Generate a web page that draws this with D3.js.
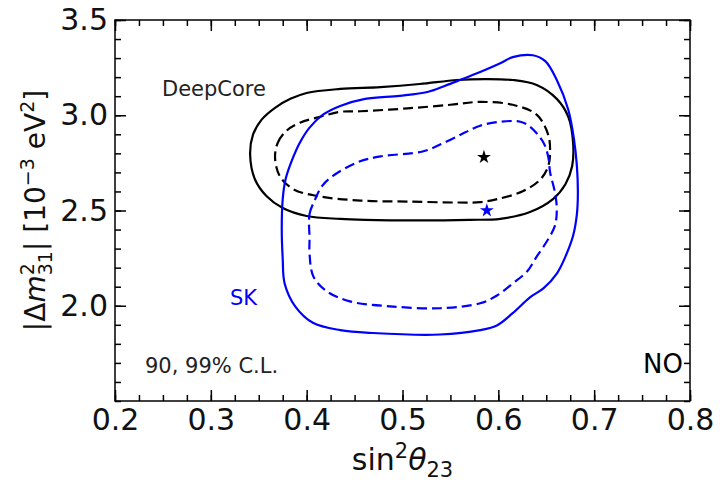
<!DOCTYPE html>
<html>
<head>
<meta charset="utf-8">
<script src="https://cdn.jsdelivr.net/npm/d3@7"></script>
<style>
  body { margin: 0; background: #fff; }
  svg { font-family: "DejaVu Sans", sans-serif; }
</style>
</head>
<body>
<svg id="chart" width="720" height="485"></svg>
<script>
// contour points: [sin^2 theta23, |dm^2_31| (1e-3 eV^2)]
const deepCore99 = [
  [0.341, 2.794], [0.344, 2.898], [0.353, 2.977], [0.367, 3.039], [0.383, 3.086],
  [0.400, 3.117], [0.435, 3.138], [0.477, 3.148], [0.518, 3.164], [0.557, 3.185],
  [0.586, 3.190], [0.615, 3.185], [0.640, 3.159], [0.661, 3.086], [0.673, 2.992],
  [0.678, 2.857], [0.677, 2.732], [0.670, 2.638], [0.657, 2.560], [0.633, 2.492],
  [0.602, 2.456], [0.570, 2.451], [0.518, 2.448], [0.461, 2.451], [0.435, 2.456],
  [0.400, 2.471], [0.375, 2.513], [0.358, 2.576], [0.346, 2.664]
]
const deepCore90 = [
  [0.367, 2.779], [0.370, 2.857], [0.379, 2.919], [0.393, 2.961], [0.414, 2.992],
  [0.435, 3.018], [0.456, 3.021], [0.505, 3.036], [0.550, 3.055], [0.581, 3.070],
  [0.615, 3.055], [0.640, 3.003], [0.652, 2.898], [0.654, 2.810], [0.652, 2.732],
  [0.644, 2.664], [0.626, 2.602], [0.599, 2.560], [0.581, 2.544], [0.557, 2.542],
  [0.505, 2.547], [0.456, 2.552], [0.411, 2.576], [0.386, 2.612], [0.372, 2.680]
]
const sk99 = [
  [0.374, 2.404], [0.375, 2.560], [0.378, 2.664], [0.385, 2.768], [0.393, 2.857],
  [0.403, 2.935], [0.417, 3.003], [0.435, 3.049], [0.461, 3.086], [0.497, 3.102],
  [0.526, 3.122], [0.544, 3.154], [0.560, 3.185], [0.581, 3.227], [0.602, 3.273],
  [0.615, 3.305], [0.636, 3.315], [0.649, 3.284], [0.661, 3.185], [0.673, 3.029],
  [0.679, 2.872], [0.682, 2.732], [0.683, 2.596], [0.682, 2.482], [0.678, 2.367],
  [0.670, 2.258], [0.661, 2.169], [0.647, 2.091], [0.633, 2.044], [0.615, 1.961],
  [0.599, 1.898], [0.581, 1.872], [0.539, 1.849], [0.469, 1.857], [0.435, 1.872],
  [0.407, 1.909], [0.388, 1.997], [0.377, 2.117], [0.375, 2.247]
]
const sk90 = [
  [0.403, 2.352], [0.403, 2.482], [0.409, 2.560], [0.416, 2.628], [0.427, 2.680],
  [0.453, 2.753], [0.477, 2.784], [0.521, 2.810], [0.546, 2.862], [0.565, 2.909],
  [0.581, 2.945], [0.602, 2.966], [0.623, 2.966], [0.633, 2.940], [0.647, 2.857],
  [0.652, 2.784], [0.654, 2.701], [0.659, 2.596], [0.661, 2.508], [0.659, 2.419],
  [0.651, 2.341], [0.640, 2.258], [0.630, 2.180], [0.615, 2.117], [0.599, 2.055],
  [0.581, 2.013], [0.539, 1.987], [0.487, 1.997], [0.445, 2.023], [0.421, 2.076],
  [0.407, 2.154], [0.403, 2.273]
]
const bestFitDeepCore = [0.585, 2.78]
const bestFitSK = [0.588, 2.50]

const xTicks = [0.2, 0.3, 0.4, 0.5, 0.6, 0.7, 0.8]
const yTicks = [2.0, 2.5, 3.0, 3.5]

const margin = {top: 20, right: 30, bottom: 84, left: 115}
const width = 720 - margin.left - margin.right
const height = 485 - margin.top - margin.bottom

const svg = d3.select("#chart")
const g = svg.append("g")
             .attr("transform", `translate(${margin.left},${margin.top})`)

const x = d3.scaleLinear().domain([0.2, 0.8]).range([0, width])
const y = d3.scaleLinear().domain([1.5, 3.5]).range([height, 0])

const xMinor = d3.range(0.2, 0.8001, 0.025)
const yMinor = d3.range(1.5, 3.5001, 0.1)
const fmt = d3.format(".1f")

// minor ticks on all four sides, pointing inwards
g.append("g").attr("transform", `translate(0,${height})`)
 .call(d3.axisBottom(x).tickValues(xMinor).tickSize(-6).tickSizeOuter(0).tickFormat(""))
g.append("g")
 .call(d3.axisTop(x).tickValues(xMinor).tickSize(-6).tickSizeOuter(0).tickFormat(""))
g.append("g")
 .call(d3.axisLeft(y).tickValues(yMinor).tickSize(-6).tickSizeOuter(0).tickFormat(""))
g.append("g").attr("transform", `translate(${width},0)`)
 .call(d3.axisRight(y).tickValues(yMinor).tickSize(-6).tickSizeOuter(0).tickFormat(""))

// major ticks
g.append("g").attr("class", "labelled").attr("transform", `translate(0,${height})`)
 .call(d3.axisBottom(x).tickValues(xTicks).tickSize(-11).tickSizeOuter(0).tickPadding(8).tickFormat(fmt))
g.append("g")
 .call(d3.axisTop(x).tickValues(xTicks).tickSize(-11).tickSizeOuter(0).tickFormat(""))
g.append("g").attr("class", "labelled")
 .call(d3.axisLeft(y).tickValues(yTicks).tickSize(-11).tickSizeOuter(0).tickPadding(7).tickFormat(fmt))
g.append("g").attr("transform", `translate(${width},0)`)
 .call(d3.axisRight(y).tickValues(yTicks).tickSize(-11).tickSizeOuter(0).tickFormat(""))

g.selectAll(".domain").remove()
g.selectAll(".tick line").attr("stroke", "#000").attr("stroke-width", 1.5)
g.selectAll(".labelled text")
 .attr("font-size", 30)
 .attr("font-family", "DejaVu Sans, sans-serif")
 .attr("fill", "#111")

g.append("rect")
 .attr("width", width)
 .attr("height", height)
 .attr("fill", "none")
 .attr("stroke", "#000")
 .attr("stroke-width", 1.5)

// contours
const line = d3.line()
               .x(d => x(d[0]))
               .y(d => y(d[1]))
               .curve(d3.curveCatmullRomClosed.alpha(0.5))

const contours = [
  {pts: deepCore99, color: "#000", dash: null},
  {pts: deepCore90, color: "#000", dash: "10,5"},
  {pts: sk99, color: "#0000ff", dash: null},
  {pts: sk90, color: "#0000ff", dash: "10,5"}
]

g.selectAll(".contour")
 .data(contours)
 .enter()
 .append("path")
 .attr("class", "contour")
 .attr("d", d => line(d.pts))
 .attr("fill", "none")
 .attr("stroke", d => d.color)
 .attr("stroke-width", 2.2)
 .attr("stroke-dasharray", d => d.dash)

// best fit stars
const star = d3.symbol().type(d3.symbolStar).size(60)
g.append("path")
 .attr("d", star)
 .attr("transform", `translate(${x(bestFitDeepCore[0])},${y(bestFitDeepCore[1])})`)
 .attr("fill", "#000")
g.append("path")
 .attr("d", star)
 .attr("transform", `translate(${x(bestFitSK[0])},${y(bestFitSK[1])})`)
 .attr("fill", "#0000ff")

// annotations
svg.append("text").text("DeepCore")
   .attr("x", 162).attr("y", 96)
   .attr("font-size", 21).attr("fill", "#222")
svg.append("text").text("SK")
   .attr("x", 230).attr("y", 305)
   .attr("font-size", 21).attr("fill", "#0000ff")
svg.append("text").text("90, 99% C.L.")
   .attr("x", 145).attr("y", 373)
   .attr("font-size", 21).attr("fill", "#222")
svg.append("text").text("NO")
   .attr("x", 683).attr("y", 373)
   .attr("text-anchor", "end")
   .attr("font-size", 26).attr("fill", "#000")

// axis titles
const xLabel = svg.append("text")
                  .attr("x", margin.left + width / 2)
                  .attr("y", 470)
                  .attr("text-anchor", "middle")
                  .attr("font-size", 30)
                  .attr("fill", "#111")
xLabel.append("tspan").text("sin")
xLabel.append("tspan").text("2").attr("font-size", 21).attr("dy", -12)
xLabel.append("tspan").text("θ").attr("font-style", "italic").attr("dy", 12)
xLabel.append("tspan").text("23").attr("font-size", 21).attr("dy", 7)

const yLabel = svg.append("text")
                  .attr("transform", `translate(45,${margin.top + height / 2}) rotate(-90)`)
                  .attr("text-anchor", "middle")
                  .attr("font-size", 28)
                  .attr("fill", "#111")
yLabel.append("tspan").text("|Δ")
yLabel.append("tspan").text("m").attr("font-style", "italic")
yLabel.append("tspan").text("2").attr("font-size", 19).attr("dy", -11)
yLabel.append("tspan").text("31").attr("font-size", 19).attr("dx", -12).attr("dy", 18)
yLabel.append("tspan").text("| [10").attr("dy", -7)
yLabel.append("tspan").text("−3").attr("font-size", 19).attr("dy", -11)
yLabel.append("tspan").text(" eV").attr("dy", 11)
yLabel.append("tspan").text("2").attr("font-size", 19).attr("dy", -11)
yLabel.append("tspan").text("]").attr("dy", 11)
</script>
</body>
</html>
